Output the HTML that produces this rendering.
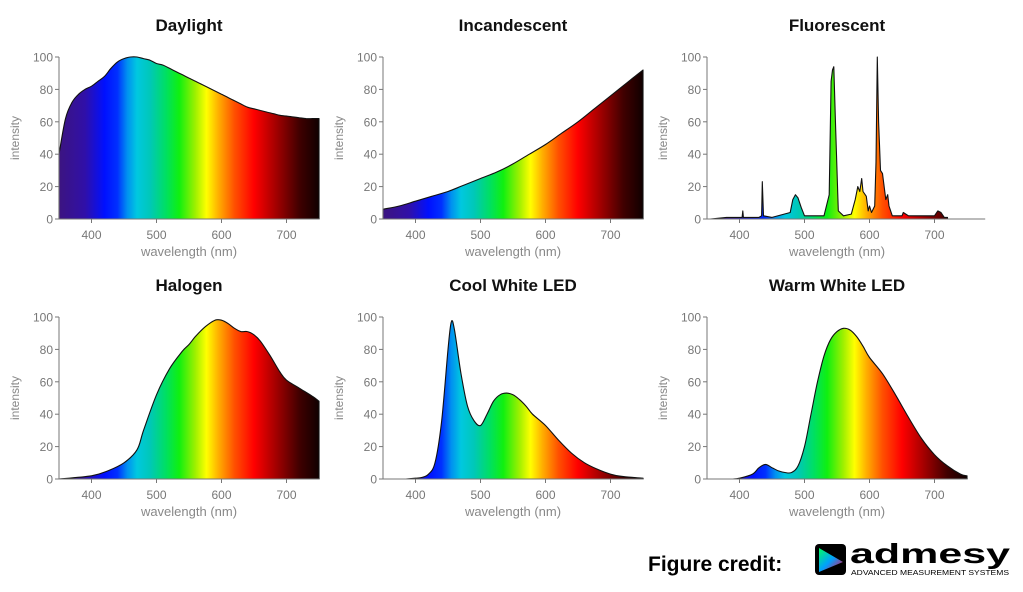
<!DOCTYPE html>
<html><head><meta charset="utf-8"><style>
html,body{margin:0;padding:0;background:#fff;width:1023px;height:592px;overflow:hidden}
svg text{font-family:"Liberation Sans",sans-serif}
</style></head><body>
<svg id="fig" width="1023" height="592" viewBox="0 0 1023 592" xmlns="http://www.w3.org/2000/svg">
<defs id="defs"></defs>
<g>
<text x="648" y="571" font-size="21" font-weight="bold" fill="#000">Figure credit:</text>
<g>
<rect x="815" y="544" width="31" height="31" rx="4" fill="#000"/>
<polygon points="819,548 819,572 843,562" fill="url(#logoGrad)"/>
<text x="850" y="563" font-size="28" font-weight="bold" fill="#000" textLength="160" lengthAdjust="spacingAndGlyphs">admesy</text>
<text x="851" y="575" font-size="7" fill="#000" textLength="158" lengthAdjust="spacingAndGlyphs">ADVANCED MEASUREMENT SYSTEMS</text>
</g>
</g>
</svg>
<script>
const titles=["Daylight","Incandescent","Fluorescent","Halogen","Cool White LED","Warm White LED"];
const xTicks=[400,500,600,700];
const yTicks=[0,20,40,60,80,100];
const daylightWl=[350,360,370,380,390,400,410,420,430,440,450,460,470,480,490,500,510,520,530,540,550,560,570,580,590,600,610,620,630,640,650,660,670,680,690,700,710,720,730,740,750];
const daylightVal=[40,62,72,77,80,82,85,88,93,97,99,100,100,99,98,96,95,93,91,89,87,85,83,81,79,77,75,73,71,69,68,67,66,65,64,63.5,63,62.5,62,62,62];
const incWl=[350,375,400,425,450,475,500,525,550,575,600,625,650,675,700,725,750];
const incVal=[6,8,11,14,17,21,25,29,34,40,46,53,60,68,76,84,92];
const fluoWl=[355,380,400,404,405,406,430,434,435,437,450,478,482,486,490,495,500,530,538,541,543,545,548,552,560,572,578,582,585,588,590,595,598,600,603,608,610,612,614,617,620,625,628,630,635,650,652,660,700,705,710,715,720];
const fluoVal=[0,1,1,1,5,1,1,2,23,2,1,4,12,15,13,7,2,2,15,85,92,94,55,5,2,3,12,20,17,25,17,14,5,8,4,8,35,100,60,30,28,12,15,8,2,2,4,2,2,5,4,1,1];
const halWl=[350,400,425,450,470,480,500,520,540,550,560,575,590,600,610,620,630,640,650,660,675,690,700,720,740,750];
const halVal=[0,2,5,10,18,30,52,68,79,83,88,94,98,98,96,93,91,91,89,85,76,66,61,56,51,48];
const coolWl=[385,400,410,420,430,440,450,455,460,470,480,490,500,510,520,530,540,550,560,570,580,600,620,640,660,680,700,720,750];
const coolVal=[0,0.5,1,3,10,35,80,97,92,65,45,36,33,40,48,52,53,52,49,45,40,33,24,16,10,6,3,1.5,0.5];
const warmWl=[390,400,420,430,440,450,460,470,480,490,500,510,520,530,540,550,560,570,580,590,600,620,640,660,680,700,720,740,750];
const warmVal=[0,0.5,3,7,9,7,5,4,4,8,20,40,60,76,86,91,93,92,88,82,75,65,52,38,25,15,8,3,2];
const series=[[daylightWl,daylightVal],[incWl,incVal],[fluoWl,fluoVal],[halWl,halVal],[coolWl,coolVal],[warmWl,warmVal]];
const colLeft=[59,383,707], rowTop=[57,317], rowBottom=[219,479];
const pxPerNm=0.65;
const NS="http://www.w3.org/2000/svg";
const svg=document.getElementById('fig'), defs=document.getElementById('defs');
function mk(t,a,p){const e=document.createElementNS(NS,t);for(const k in a)e.setAttribute(k,a[k]);(p||svg).appendChild(e);return e;}
const stops=[[350,"#3c1480"],[390,"#3010a8"],[420,"#0010ff"],[440,"#0030ff"],[455,"#0090f0"],[470,"#00c8e0"],[490,"#00c8b8"],[515,"#00e060"],[535,"#10f010"],[560,"#a0f000"],[577,"#ffff00"],[595,"#ffb000"],[620,"#ff5000"],[650,"#ff0000"],[685,"#a00000"],[720,"#400000"],[750,"#100000"]];
const lg=mk('linearGradient',{id:'logoGrad',x1:0,y1:0,x2:1,y2:1},defs);
[["0","#00ff60"],["0.5","#00a0ff"],["1","#ff0040"]].forEach(s=>mk('stop',{offset:s[0],'stop-color':s[1]},lg));
function smoothPath(pts){
  let d='';
  for(let k=0;k<pts.length-1;k++){
    const p0=pts[Math.max(0,k-1)],p1=pts[k],p2=pts[k+1],p3=pts[Math.min(pts.length-1,k+2)];
    const c1x=p1[0]+(p2[0]-p0[0])/6,c1y=p1[1]+(p2[1]-p0[1])/6;
    const c2x=p2[0]-(p3[0]-p1[0])/6,c2y=p2[1]-(p3[1]-p1[1])/6;
    d+=' C'+c1x.toFixed(1)+','+c1y.toFixed(1)+' '+c2x.toFixed(1)+','+c2y.toFixed(1)+' '+p2[0].toFixed(1)+','+p2[1].toFixed(1);
  }
  return d;
}
for(let i=0;i<6;i++){
  const c=i%3,r=Math.floor(i/3);
  const x0=colLeft[c], yT=rowTop[r], yB=rowBottom[r];
  const xs=w=>x0+(w-350)*pxPerNm, ys=v=>yB-(v/100)*(yB-yT);
  const g=mk('g',{});
  
  
  const gr=mk('linearGradient',{id:'sp'+i,gradientUnits:'userSpaceOnUse',x1:xs(350),y1:0,x2:xs(750),y2:0},defs);
  stops.forEach(s=>mk('stop',{offset:((s[0]-350)/400).toFixed(4),'stop-color':s[1]},gr));
  const t=mk('text',{x:xs(550),y:yT-26,'font-size':17,'font-weight':'bold','text-anchor':'middle',fill:'#111'},g);
  t.textContent=titles[i];
  
  
  const [wl,val]=series[i];
  const pts=wl.map((w,k)=>[xs(w),ys(val[k])]);
  let d='M'+xs(wl[0]).toFixed(1)+','+yB+' L'+pts[0][0].toFixed(1)+','+pts[0][1].toFixed(1);
  if(i==2){pts.slice(1).forEach(q=>{d+=' L'+q[0].toFixed(1)+','+q[1].toFixed(1);});}
  else d+=smoothPath(pts);
  d+=' L'+xs(wl[wl.length-1]).toFixed(1)+','+yB+' Z';
  const p=mk('path',{d:d,fill:'url(#sp'+i+')',stroke:'#111','stroke-width':1.1,'stroke-linejoin':'round'},g);
  
  
  const ax=mk('path',{d:'M'+x0+','+(yT)+' L'+x0+','+yB+' L'+xs(i==2?778:750)+','+yB,fill:'none',stroke:'#777','stroke-width':1},g);
  
  
  yTicks.forEach(v=>{
    mk('line',{x1:x0-4,x2:x0,y1:ys(v),y2:ys(v),stroke:'#777'},g);
    const tl=mk('text',{x:x0-6,y:ys(v)+4.5,'font-size':12,'text-anchor':'end',fill:'#777'},g);
    tl.textContent=v;
    
    
  });
  xTicks.forEach(v=>{
    mk('line',{x1:xs(v),x2:xs(v),y1:yB,y2:yB+4,stroke:'#777'},g);
    const tl=mk('text',{x:xs(v),y:yB+20,'font-size':12,'text-anchor':'middle',fill:'#777'},g);
    tl.textContent=v;
    
    
  });
  const xt=mk('text',{x:xs(550),y:yB+37,'font-size':13,'text-anchor':'middle',fill:'#888'},g);
  xt.textContent='wavelength (nm)';
  
  
  const yt=mk('text',{x:0,y:0,'font-size':12,'text-anchor':'middle',fill:'#888',transform:'translate('+(x0-40)+','+((yT+yB)/2)+') rotate(-90)'},g);
  yt.textContent='intensity';
  
  
}
</script>
</body></html>
